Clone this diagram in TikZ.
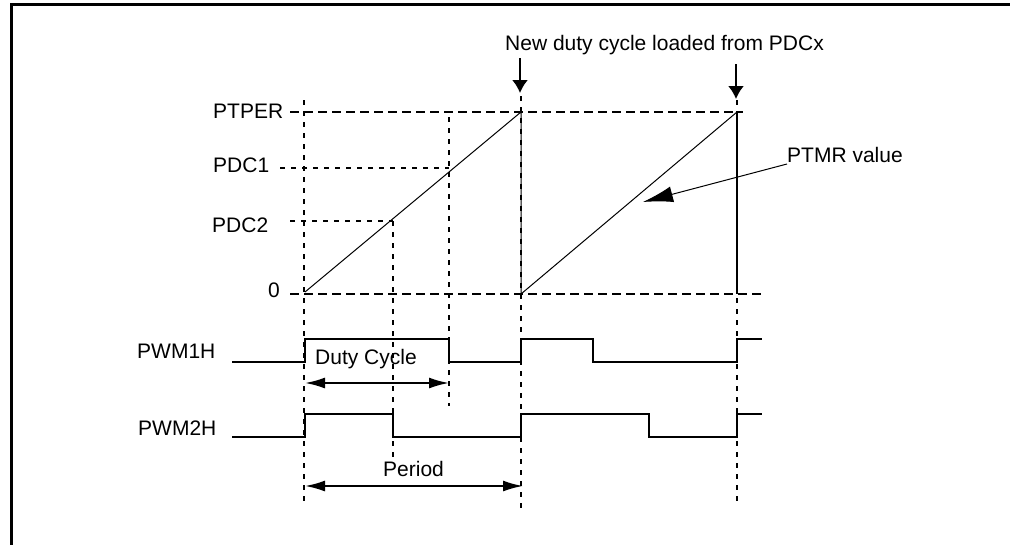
\documentclass[tikz,border=0pt]{standalone}
\usepackage{fontspec}
\setmainfont{Liberation Sans}
\usetikzlibrary{arrows.meta}
\begin{document}
\begin{tikzpicture}[x=1pt,y=-1pt,
  lbl/.style={font=\fontsize{21}{25}\selectfont, inner sep=0pt, anchor=base west},
  gridA/.style={line width=2pt, dash pattern=on 9pt off 5pt},
  gridB/.style={line width=2pt, dash pattern=on 5pt off 6pt},
  wave/.style={line width=2.5pt, line join=miter},
  ramp/.style={line width=1pt},
  dim/.style={line width=2pt, {Latex[length=20pt,width=11pt]}-{Latex[length=20pt,width=11pt]}},
  downarr/.style={line width=2pt, -{Latex[length=13pt,width=16pt]}},
  leader/.style={line width=1pt, -{Latex[length=30pt,width=16pt]}},
]
\useasboundingbox (0,0) rectangle (1010,544);
% frame
\draw[line width=3pt] (11,546) -- (11,4.5) -- (1011,4.5);

% coordinates
\coordinate (t0top) at (304,100);  \coordinate (t0bot) at (304,505);
\coordinate (t1top) at (521,96);   \coordinate (t1bot) at (521,512);
\coordinate (t2top) at (737,100);  \coordinate (t2bot) at (737,502);
\coordinate (p2top) at (393,221);  \coordinate (p2bot) at (393,457);
\coordinate (p1top) at (449,117);  \coordinate (p1bot) at (449,406);
\coordinate (perL) at (290,112);   \coordinate (perR) at (743,112);
\coordinate (zeroL) at (290,294);  \coordinate (zeroR) at (765,294);
\coordinate (pdc1L) at (280,168);  \coordinate (pdc1R) at (449,168);
\coordinate (pdc2L) at (290,221);  \coordinate (pdc2R) at (393,221);

% labels
\node[lbl] (lptper) at (213,118) {PTPER};
\node[lbl] (lpdc1) at (213,172) {PDC1};
\node[lbl] (lpdc2) at (212,232) {PDC2};
\node[lbl] (lzero) at (268,297) {0};
\node[lbl] (lpwm1) at (137,358) {PWM1H};
\node[lbl] (lpwm2) at (138,435) {PWM2H};
\node[lbl] (lduty) at (315,364) {Duty Cycle};
\node[lbl] (lperiod) at (383,476) {Period};
\node[lbl] (lptmr) at (787,162) {PTMR value};
\node[lbl] (lnew) at (505,50) {New duty cycle loaded from PDCx};

% dashed grid
\draw[gridA] (perL) -- (perR);
\draw[gridA] (zeroL) -- (zeroR);
\draw[gridB] (pdc1L) -- (pdc1R);
\draw[gridB] (pdc2L) -- (pdc2R);
\draw[gridB] (t0top) -- (t0bot);
\draw[gridB] (t1top) -- (t1bot);
\draw[gridB] (t2top) -- (t2bot);
\draw[gridB] (p2top) -- (p2bot);
\draw[gridB] (p1top) -- (p1bot);

% ramps
\coordinate (r1s) at (305,292); \coordinate (r1e) at (521,112); \coordinate (r1b) at (521,294);
\coordinate (r2e) at (737,112); \coordinate (r2b) at (737,294);
\draw[ramp] (r1s) -- (r1e) -- (r1b) -- (r2e);
\draw[line width=2pt] (r2e) -- (r2b);

% waveforms
\draw[wave] (232,362) -- (305,362) -- (305,339) -- (449,339) -- (449,362) -- (521,362)
  -- (521,339) -- (593,339) -- (593,362) -- (737,362) -- (737,339) -- (762,339);
\draw[wave] (232,437) -- (305,437) -- (305,414) -- (393,414) -- (393,437) -- (521,437)
  -- (521,414) -- (649,414) -- (649,437) -- (737,437) -- (737,414) -- (762,414);

% dimension arrows
\coordinate (dutyL) at (305,383); \coordinate (dutyR) at (449,383);
\coordinate (perAL) at (305,486); \coordinate (perAR) at (523,486);
\draw[dim] (dutyL) -- (dutyR);
\draw[dim] (perAL) -- (perAR);

% down arrows
\coordinate (a1s) at (520,58); \coordinate (a1e) at (520,93);
\coordinate (a2s) at (736,64); \coordinate (a2e) at (736,99);
\draw[downarr] (a1s) -- (a1e);
\draw[downarr] (a2s) -- (a2e);

% PTMR leader
\coordinate (ptmrtip) at (643,202);
\draw[leader] (lptmr.base west) ++(0,2) -- (ptmrtip);
\end{tikzpicture}
\end{document}
